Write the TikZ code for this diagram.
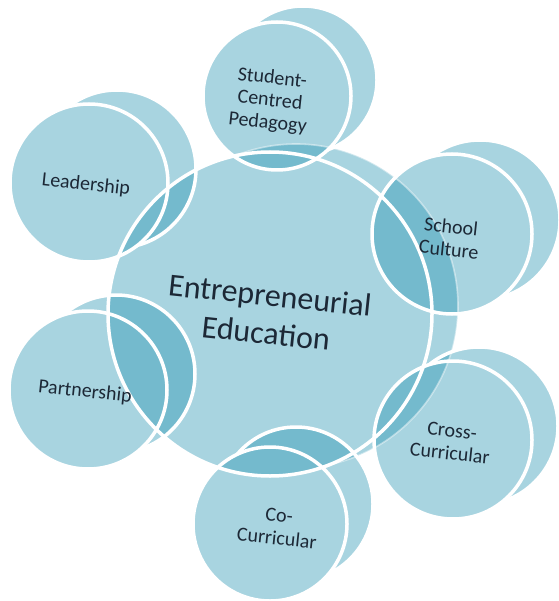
\documentclass[tikz,border=0pt]{standalone}
\usepackage{fontspec}
\setmainfont{Carlito}
\definecolor{diskblue}{RGB}{38,147,177}
\definecolor{txtcol}{RGB}{28,40,54}
\tikzset{
  diskfill/.style={fill=diskblue, fill opacity=0.4},
  rim/.style={draw=white, line width=3.5pt},
  faintrim/.style={draw=white, line width=1.6pt, draw opacity=0.45},
  lbl/.style={text=txtcol, align=center, rotate=-6, inner sep=0pt,
    font=\fontsize{20}{22.5}\selectfont},
  mainlbl/.style={text=txtcol, align=center, rotate=-6, inner sep=0pt,
    font=\fontsize{32}{38}\selectfont}
}
% #1 x, #2 y, #3 r, #4 dx, #5 dy
\newcommand{\diskfill}[5]{%
  \fill[diskfill] (#1,#2) circle (#3pt) (#1+#4,#2+#5) circle (#3pt);}
\newcommand{\diskback}[6]{%
  \begin{scope}[even odd rule]
    \clip (-20,-20) rectangle (580,620) (#1,#2) circle (#3pt);
    \path[#6] (#1+#4,#2+#5) circle (#3pt);
  \end{scope}}
\begin{document}
\begin{tikzpicture}[x=1pt,y=-1pt]
\useasboundingbox (0,0) rectangle (558,601);
% fills
\diskfill{270}{314}{162}{26}{-8}
\diskfill{89}{183}{79}{28}{-14}
\diskfill{277}{96}{74}{26}{-16}
\diskfill{452}{234}{80}{28}{-14}
\diskfill{453}{440}{79}{26}{-14}
\diskfill{270}{524}{77}{26}{-20}
\diskfill{88}{390}{79}{28}{-16}
% back rims
\diskback{270}{314}{162}{26}{-8}{faintrim}
\diskback{89}{183}{79}{28}{-14}{rim}
\diskback{277}{96}{74}{26}{-16}{rim}
\diskback{452}{234}{80}{28}{-14}{rim}
\diskback{453}{440}{79}{26}{-14}{rim}
\diskback{270}{524}{77}{26}{-20}{rim}
\diskback{88}{390}{79}{28}{-16}{rim}
% front rims
\node[rim, circle, minimum size=324pt, inner sep=0pt] (center) at (270,314) {};
\node[rim, circle, minimum size=158pt, inner sep=0pt] (lead) at (89,183) {};
\node[rim, circle, minimum size=148pt, inner sep=0pt] (stud) at (277,96) {};
\node[rim, circle, minimum size=160pt, inner sep=0pt] (school) at (452,234) {};
\node[rim, circle, minimum size=158pt, inner sep=0pt] (cross) at (453,440) {};
\node[rim, circle, minimum size=154pt, inner sep=0pt] (cocur) at (270,524) {};
\node[rim, circle, minimum size=158pt, inner sep=0pt] (partner) at (88,390) {};
% labels
\node[mainlbl] (tcenter) at (268,314) {Entrepreneurial\\Education};
\node[lbl] (tlead) at (86,185) {Leadership};
\node[lbl] (tstud) at (270,101) {Student-\\Centred\\Pedagogy};
\node[lbl] (tschool) at (450,238) {School\\Culture};
\node[lbl] (tcross) at (451,442) {Cross-\\Curricular};
\node[lbl] (tcocur) at (278,527) {Co-\\Curricular};
\node[lbl] (tpartner) at (85,392) {Partnership};
\end{tikzpicture}
\end{document}
